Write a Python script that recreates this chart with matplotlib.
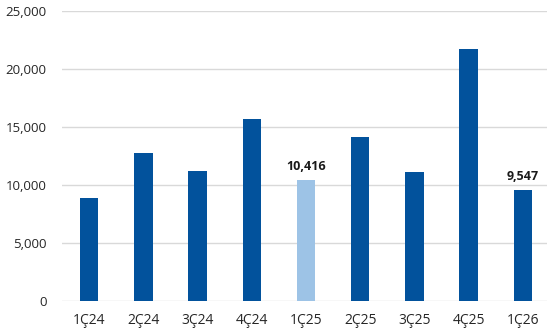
import matplotlib.pyplot as plt
from matplotlib.ticker import FuncFormatter

quarters = ["1Ç24", "2Ç24", "3Ç24", "4Ç24", "1Ç25", "2Ç25", "3Ç25", "4Ç25", "1Ç26"]
values = [8900, 12800, 11180, 15720, 10416, 14140, 11090, 21750, 9547]
labelled = {"1Ç25": "10,416", "1Ç26": "9,547"}

DARK = "#02529C"
LIGHT = "#9DC3E6"
GRID = "#D9D9D9"

plt.rcParams["font.family"] = ["Open Sans", "DejaVu Sans"]

fig = plt.figure(figsize=(5.47, 3.36), dpi=100)
ax = fig.add_axes([62 / 547, 35 / 336, 488 / 547, 290 / 336])

colors = [LIGHT if q == "1Ç25" else DARK for q in quarters]
x = range(len(quarters))
ax.bar(x, values, width=0.34, color=colors, zorder=3)

for i, q in enumerate(quarters):
    if q in labelled:
        ax.annotate(labelled[q], (i, values[i]), xytext=(0, 5), textcoords="offset points",
                    ha="center", va="bottom", fontsize=9, fontweight="bold", color="#1a1a1a")

ax.set_xlim(-0.5, len(quarters) - 0.5)
ax.set_ylim(0, 25000)
ax.set_yticks(range(0, 25001, 5000))
ax.yaxis.set_major_formatter(FuncFormatter(lambda v, p: f"{int(v):,}"))
ax.set_xticks(list(x))
ax.set_xticklabels(quarters)

ax.grid(axis="y", color=GRID, linewidth=1, zorder=0)
for s in ax.spines.values():
    s.set_visible(False)
ax.tick_params(axis="both", length=0, colors="#262626")
ax.tick_params(axis="y", pad=11, labelsize=9.5)
ax.tick_params(axis="x", pad=9, labelsize=10)

fig.savefig("out.png", dpi=100)
